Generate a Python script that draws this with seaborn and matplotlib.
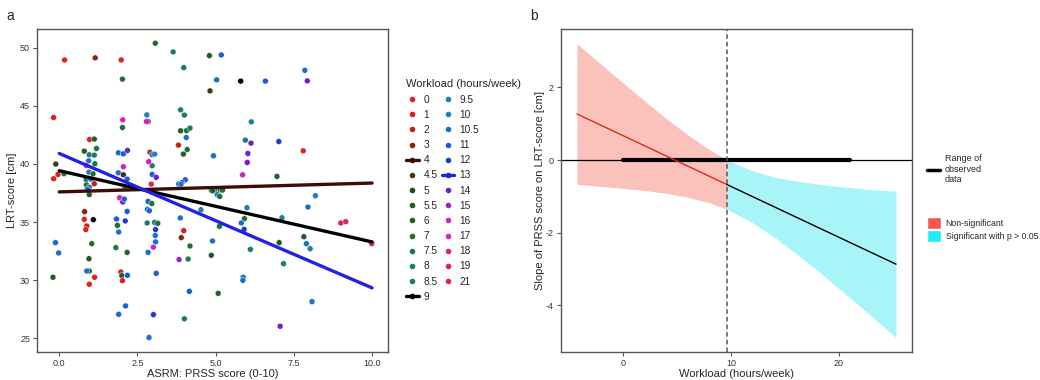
import numpy as np
import pandas as pd
import matplotlib
matplotlib.use("Agg")
import matplotlib.pyplot as plt
from matplotlib.lines import Line2D
from matplotlib.patches import Patch
import seaborn as sns

# ---- panel a: observed points (PRSS score, LRT-score, workload) ----
prss = [3.07, 0.17, 1.15, 1.98, 2.02, -0.18, 2.03, 2.02, 2.80, 2.84, 2.79, 0.97, 1.12, 0.80, 1.19,
        0.96, 1.12, 0.94, 1.14, -0.11, -0.04, -0.18, 0.15, 0.86, 0.95, 1.08, 0.86, 1.01, 1.12, 0.87,
        0.96, 0.90, 0.96, 1.89, 2.05, 2.18, 2.05, 1.89, 2.05, 2.17, 2.10, 1.95, 1.93, 2.03, 2.08,
        2.17, 1.83, 2.11, 1.86, 1.90, 0.81, 0.80, 1.09, 0.88, 0.85, -0.12, -0.02, 1.04, 1.81, 2.17,
        0.95, 0.96, 0.88, 1.13, 0.96, -0.20, 1.97, 2.00, 2.02, 2.18, 2.12, 1.90, 2.87, 3.01, 2.84,
        2.82, 2.88, 2.81, 3.07, 3.08, 3.07, 3.08, 3.01, 2.84, 3.10, 2.97, 2.86, 2.90, 2.97, 3.05,
        2.97, 3.10, 2.94, 2.96, 3.05, 3.15,
        3.64, 3.98, 4.80, 5.18, 5.03, 5.80, 4.82, 6.59, 3.88, 4.00, 3.88, 4.07, 4.18, 4.06, 3.81,
        4.09, 3.97, 4.93, 6.14, 5.95, 6.13, 6.03, 6.01, 5.86, 4.03, 3.92, 3.82, 3.89, 4.86, 5.00,
        5.15, 5.22, 5.05, 5.13, 4.90, 4.53, 3.87, 6.00, 5.92, 5.82, 5.91, 5.12, 3.98, 3.90, 4.18,
        4.90, 3.83, 4.12, 4.86, 6.11, 5.88, 5.87, 4.16, 5.08, 4.00,
        7.02, 6.96, 7.12, 7.03, 7.17, 7.06, 7.93, 7.85, 7.80, 8.19, 7.95, 9.00, 9.16, 7.82, 7.90,
        8.02, 9.99, 8.08]
lrt = [50.38, 48.94, 49.12, 48.94, 47.29, 43.99, 43.79, 43.13, 44.22, 43.65, 43.65, 42.10, 42.14,
       41.10, 41.33, 40.79, 40.76, 40.27, 40.02, 39.99, 39.10, 38.73, 39.16, 39.87, 39.30, 39.15,
       38.67, 38.70, 38.30, 38.20, 38.00, 37.80, 37.37, 40.96, 40.87, 41.16, 39.76, 39.24, 39.07,
       38.70, 38.00, 37.07, 37.10, 36.73, 36.98, 35.92, 35.27, 35.10, 34.72, 34.15, 35.90, 35.24,
       35.21, 34.67, 34.36, 33.24, 32.35, 33.15, 32.81, 32.40, 31.86, 30.80, 30.80, 30.26, 29.66,
       30.26, 30.72, 30.40, 29.97, 30.43, 27.80, 27.08, 25.08, 27.05, 36.78, 36.10, 35.98, 34.93,
       34.93, 34.36, 33.85, 33.30, 32.85, 32.40, 30.60, 39.85, 40.20, 41.00, 40.80, 40.85, 39.10,
       38.85, 38.27, 36.60, 34.98, 34.90,
       49.63, 48.28, 49.31, 49.37, 47.23, 47.12, 46.28, 47.12, 44.65, 44.20, 42.85, 42.87, 43.08,
       42.27, 41.62, 41.24, 40.85, 40.70, 43.62, 42.05, 41.79, 40.90, 40.13, 39.07, 38.64, 38.39,
       38.27, 38.27, 37.73, 37.67, 37.76, 37.76, 37.36, 37.21, 37.70, 36.07, 35.36, 36.24, 35.30,
       34.93, 34.38, 34.64, 34.27, 33.67, 32.95, 33.38, 31.78, 31.83, 32.15, 32.66, 30.26, 30.00,
       29.05, 28.88, 26.69,
       41.93, 38.93, 35.38, 33.24, 31.43, 26.05, 47.14, 48.05, 41.13, 37.27, 36.30, 34.93, 35.04,
       33.75, 33.15, 32.72, 33.15, 28.17]
workload = [7, 0, 3, 1, 7, 0, 16, 7, 10, 4.5, 16, 1, 5.5, 6, 7.5, 8.5, 8.5, 10.5, 7.5, 4.5, 1, 0, 8,
            17, 10, 7, 8.5, 10.5, 2, 7, 9.5, 11, 6, 10.5, 11, 14, 16, 10.5, 4.5, 11, 9.5, 3, 17, 14,
            11, 11, 11, 12, 7, 10.5, 3, 1, 9, 2, 1, 10.5, 10.5, 7, 7.5, 6, 5.5, 6, 10.5, 0, 1, 5.5,
            1, 5.5, 0, 11, 11, 10.5, 10.5, 12, 11, 10.5, 11, 8.5, 10.5, 12, 10.5, 10.5, 16, 10.5,
            11, 8.5, 16, 2, 10.5, 10, 11, 14, 19, 7, 8.5, 7,
            8, 8.5, 6, 11, 10.5, 9, 4.5, 11, 8.5, 8.5, 6, 7, 8, 10.5, 2, 7, 6, 10.5, 9.5, 8.5, 14,
            14, 14, 16, 11, 12, 10.5, 10.5, 8.5, 10.5, 7, 7, 9.5, 7, 6, 9.5, 10.5, 9.5, 7, 10.5, 12,
            7, 1, 3, 7, 10.5, 15, 8, 5.5, 8.5, 10.5, 10.5, 11, 6, 8.5,
            12, 6, 9.5, 5.5, 8.5, 14, 14, 10.5, 1, 10, 10.5, 19, 19, 5.5, 10.5, 9.5, 18, 10.5]

levels = [0, 1, 2, 3, 4, 4.5, 5, 5.5, 6, 7, 7.5, 8, 8.5, 9,
          9.5, 10, 10.5, 11, 12, 13, 14, 15, 16, 17, 18, 19, 21]
level_colors = ["#E3201C", "#D8231E", "#B8261A", "#8A2410", "#3D0C02", "#3B3A14", "#1E4A1E",
                "#215A22", "#1F6228", "#1E7032", "#1C7A42", "#1A7C58", "#187C6E", "#000000",
                "#1E80A4", "#1F7EC4", "#1B6ECA", "#1A5ED2", "#1A3ECE", "#2222E6", "#6A1FD2",
                "#9A20D2", "#CC22C8", "#E020A8", "#E0208A", "#E02062", "#E0283A"]

# fitted simple slopes at three workload values (PRSS 0 -> 10)
fit_levels = [4, 9, 13]
fit_start = [37.60, 39.42, 40.90]
fit_end = [38.36, 33.30, 29.35]
fit_x = [0, 10]

# ---- panel b: Johnson-Neyman plot ----
jn_point = 9.64
ns_x = [-4.3, -2, 0, 2, 4, 6, 8, 9.64]
ns_upper = [3.21, 2.62, 2.12, 1.62, 1.14, 0.69, 0.28, 0.0]
ns_lower = [-0.67, -0.73, -0.78, -0.84, -0.92, -1.03, -1.18, -1.36]
sig_x = [9.64, 12, 14, 16, 18, 20, 22, 25.3]
sig_upper = [0.0, -0.30, -0.47, -0.58, -0.66, -0.73, -0.79, -0.86]
sig_lower = [-1.36, -1.73, -2.12, -2.57, -3.04, -3.54, -4.04, -4.89]
slope_x = [-4.3, 9.64, 25.3]
slope_y = [1.27, -0.68, -2.87]
obs_range = [0, 21]

sns.set_theme(style="white")
plt.rcParams["font.family"] = ["Liberation Sans", "DejaVu Sans"]
plt.rcParams["axes.unicode_minus"] = False

fig = plt.figure(figsize=(10.4, 3.8), dpi=100)
ax1 = fig.add_axes([0.0356, 0.0737, 0.3375, 0.85])
ax2 = fig.add_axes([0.5394, 0.0737, 0.3375, 0.85])

pal = dict(zip(levels, level_colors))
pts = pd.DataFrame({"prss": prss, "lrt": lrt, "workload": workload})
sns.scatterplot(data=pts, x="prss", y="lrt", hue="workload", palette=pal, s=18,
                edgecolor="white", linewidth=0.3, legend=False, ax=ax1, zorder=3)

fits = pd.DataFrame({
    "prss": fit_x * len(fit_levels),
    "lrt": [v for a, b in zip(fit_start, fit_end) for v in (a, b)],
    "workload": [w for w in fit_levels for _ in fit_x],
})
sns.lineplot(data=fits, x="prss", y="lrt", hue="workload", palette={w: pal[w] for w in fit_levels},
             linewidth=2.4, legend=False, ax=ax1, zorder=4)

ax1.set_xlim(-0.71, 10.51)
ax1.set_ylim(23.84, 51.6)
ax1.set_xticks([0, 2.5, 5, 7.5, 10])
ax1.set_xticklabels(["0.0", "2.5", "5.0", "7.5", "10.0"])
ax1.set_yticks([25, 30, 35, 40, 45, 50])
ax1.set_xlabel("ASRM: PRSS score (0-10)", fontsize=8, labelpad=1)
ax1.set_ylabel("LRT-score [cm]", fontsize=8, labelpad=2)

# panel b
ax2.fill_between(ns_x, ns_lower, ns_upper, color="#FBC2BB", linewidth=0, zorder=1)
ax2.fill_between(sig_x, sig_lower, sig_upper, color="#A8F5F9", linewidth=0, zorder=1)
ax2.axhline(0, color="black", linewidth=0.9, zorder=2)
sns.lineplot(x=obs_range, y=[0, 0], color="black", linewidth=3, ax=ax2, zorder=3)
sns.lineplot(x=slope_x[:2], y=slope_y[:2], color="#E0281E", linewidth=1.0, ax=ax2, zorder=4)
sns.lineplot(x=slope_x[1:], y=slope_y[1:], color="black", linewidth=1.0, ax=ax2, zorder=4)
ax2.axvline(jn_point, color="#555555", linewidth=1.1, linestyle=(0, (3, 2)), zorder=5)

ax2.set_xlim(-5.78, 26.78)
ax2.set_ylim(-5.29, 3.61)
ax2.set_xticks([0, 10, 20])
ax2.set_yticks([-4, -2, 0, 2])
ax2.set_xlabel("Workload (hours/week)", fontsize=8, labelpad=1)
ax2.set_ylabel("Slope of PRSS score on LRT-score [cm]", fontsize=8, labelpad=1)

for ax in (ax1, ax2):
    for sp in ax.spines.values():
        sp.set_color("#555555")
        sp.set_linewidth(1.0)
    ax.tick_params(axis="both", which="both", length=3, width=0.8, color="#555555",
                   labelsize=6.5, labelcolor="#333333", pad=2, direction="out",
                   bottom=True, left=True)

# legend panel a
handles = []
for lv, col in zip(levels, level_colors):
    if lv in fit_levels:
        handles.append(Line2D([0], [0], color=col, linewidth=2.4, marker="o", markersize=3))
    else:
        handles.append(Line2D([0], [0], color=col, linewidth=0, marker="o", markersize=3))
labels = [f"{lv:g}" for lv in levels]
leg1 = fig.legend(handles, labels, ncol=2, loc="upper left", bbox_to_anchor=(0.382, 0.815),
                  frameon=False, title="Workload (hours/week)", title_fontsize=8, fontsize=7.3,
                  handlelength=1.2, handletextpad=0.5, columnspacing=0.45, labelspacing=0.51,
                  alignment="left")

# legends panel b
leg2 = fig.legend([Line2D([0], [0], color="black", linewidth=2.5)], ["Range of\nobserved\ndata"],
                  loc="upper left", bbox_to_anchor=(0.884, 0.615), frameon=False, fontsize=6.5,
                  handlelength=1.4, handletextpad=0.5, labelspacing=0.2)
leg3 = fig.legend([Patch(facecolor="#F5574F"), Patch(facecolor="#1FEEF8")],
                  ["Non-significant", "Significant with p > 0.05"],
                  loc="upper left", bbox_to_anchor=(0.884, 0.45), frameon=False, fontsize=6.3,
                  handlelength=1.6, handleheight=1.8, handletextpad=0.5, labelspacing=0.05)

fig.text(0.006, 0.975, "a", fontsize=10, va="top")
fig.text(0.510, 0.975, "b", fontsize=10, va="top")

fig.savefig("out.png", dpi=100)
